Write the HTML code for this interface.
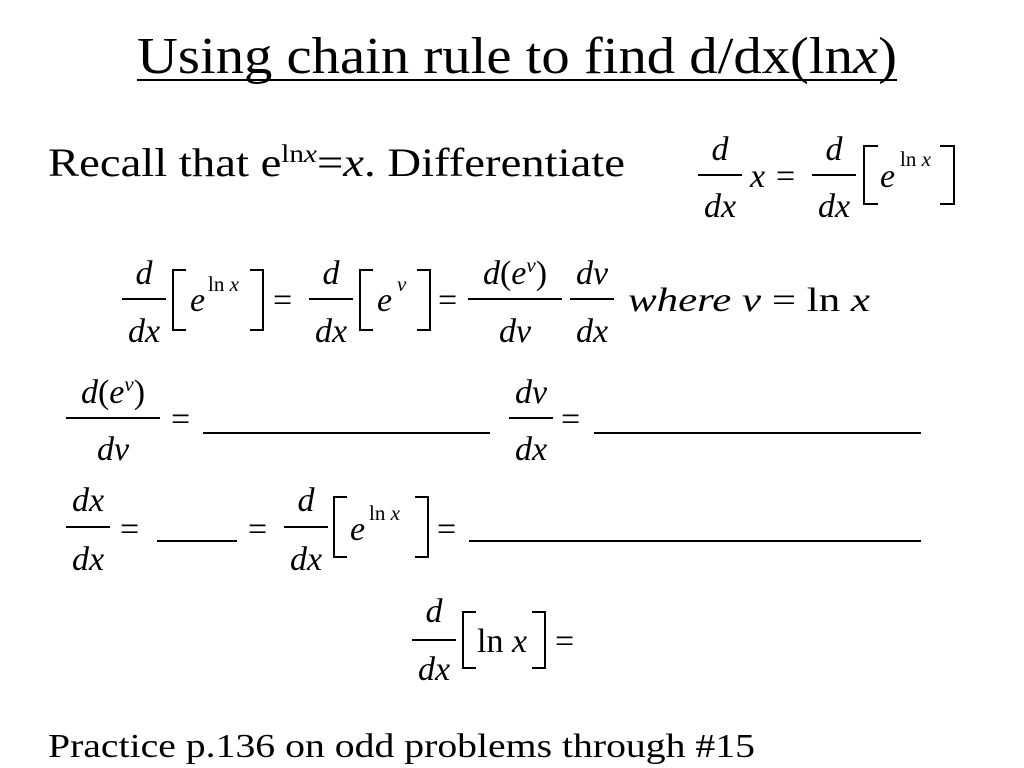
<!DOCTYPE html>
<html><head><meta charset="utf-8"><style>
html,body{margin:0;padding:0;background:#fff;}
svg{display:block}
text{font-family:"Liberation Serif",serif;fill:#000}
.i{font-style:italic}
</style></head><body>
<svg width="1024" height="768" viewBox="0 0 1024 768" xmlns="http://www.w3.org/2000/svg">
<g stroke="#000" stroke-width="2" fill="none">
<line x1="137" y1="80" x2="897" y2="80"/>
<line x1="698" y1="175" x2="742" y2="175"/>
<line x1="812" y1="175" x2="856" y2="175"/>
<polyline points="878,146 864,146 864,204 878,204"/>
<polyline points="940,146 954,146 954,204 940,204"/>
<line x1="122" y1="299" x2="166" y2="299"/>
<polyline points="186,270 173,270 173,330 186,330"/>
<polyline points="250,270 263,270 263,330 250,330"/>
<line x1="309" y1="299" x2="353" y2="299"/>
<polyline points="373,270 360,270 360,330 373,330"/>
<polyline points="417,270 430,270 430,330 417,330"/>
<line x1="468" y1="299" x2="562" y2="299"/>
<line x1="570" y1="299" x2="614" y2="299"/>
<line x1="66" y1="418" x2="160" y2="418"/>
<line x1="203" y1="433" x2="490" y2="433"/>
<line x1="509" y1="418" x2="553" y2="418"/>
<line x1="594" y1="433" x2="921" y2="433"/>
<line x1="66" y1="527" x2="110" y2="527"/>
<line x1="157" y1="541" x2="237" y2="541"/>
<line x1="284" y1="527" x2="328" y2="527"/>
<polyline points="347,497 334,497 334,557 347,557"/>
<polyline points="415,497 428,497 428,557 415,557"/>
<line x1="469" y1="541" x2="921" y2="541"/>
<line x1="412" y1="640" x2="456" y2="640"/>
<polyline points="476,612 463,612 463,668 476,668"/>
<polyline points="532,612 545,612 545,668 532,668"/>
</g>

<text x="137" y="73" font-size="52" textLength="760" lengthAdjust="spacingAndGlyphs">Using chain rule to find d/dx(ln<tspan class="i">x</tspan>)</text>

<text x="48" y="176" font-size="40" textLength="577" lengthAdjust="spacingAndGlyphs">Recall that e<tspan font-size="25" dy="-14">ln<tspan class="i">x</tspan></tspan><tspan dy="14">=</tspan><tspan class="i">x</tspan>.  Differentiate</text>

<g font-size="34">
<text x="720" y="160" text-anchor="middle" class="i">d</text>
<text x="720" y="217" text-anchor="middle" class="i">dx</text>
<text x="750" y="187" class="i">x</text>
<text x="776" y="187">=</text>
<text x="834" y="160" text-anchor="middle" class="i">d</text>
<text x="834" y="217" text-anchor="middle" class="i">dx</text>
<text x="880" y="187" class="i">e</text>
<text x="900" y="166" font-size="21">ln <tspan class="i">x</tspan></text>

<text x="144" y="284" text-anchor="middle" class="i">d</text>
<text x="144" y="342" text-anchor="middle" class="i">dx</text>
<text x="190" y="311" class="i">e</text>
<text x="208" y="291" font-size="21">ln <tspan class="i">x</tspan></text>
<text x="273" y="311">=</text>
<text x="331" y="284" text-anchor="middle" class="i">d</text>
<text x="331" y="342" text-anchor="middle" class="i">dx</text>
<text x="377" y="311" class="i">e</text>
<text x="397" y="291" font-size="21" class="i">v</text>
<text x="438" y="311">=</text>
<text x="515" y="284" text-anchor="middle"><tspan class="i">d</tspan>(<tspan class="i">e</tspan><tspan font-size="21" dy="-12" class="i">v</tspan><tspan dy="12">)</tspan></text>
<text x="515" y="342" text-anchor="middle" class="i">dv</text>
<text x="592" y="284" text-anchor="middle" class="i">dv</text>
<text x="592" y="342" text-anchor="middle" class="i">dx</text>
<text x="628" y="311" textLength="242" lengthAdjust="spacingAndGlyphs"><tspan class="i">where</tspan>  <tspan class="i">v</tspan> = ln <tspan class="i">x</tspan></text>

<text x="113" y="403" text-anchor="middle"><tspan class="i">d</tspan>(<tspan class="i">e</tspan><tspan font-size="21" dy="-12" class="i">v</tspan><tspan dy="12">)</tspan></text>
<text x="113" y="460" text-anchor="middle" class="i">dv</text>
<text x="171" y="430">=</text>
<text x="531" y="403" text-anchor="middle" class="i">dv</text>
<text x="531" y="460" text-anchor="middle" class="i">dx</text>
<text x="561" y="430">=</text>

<text x="88" y="511" text-anchor="middle" class="i">dx</text>
<text x="88" y="570" text-anchor="middle" class="i">dx</text>
<text x="120" y="540">=</text>
<text x="248" y="540">=</text>
<text x="306" y="511" text-anchor="middle" class="i">d</text>
<text x="306" y="570" text-anchor="middle" class="i">dx</text>
<text x="350" y="540" class="i">e</text>
<text x="369" y="520" font-size="21">ln <tspan class="i">x</tspan></text>
<text x="437" y="540">=</text>

<text x="434" y="622" text-anchor="middle" class="i">d</text>
<text x="434" y="680" text-anchor="middle" class="i">dx</text>
<text x="477" y="652">ln <tspan class="i">x</tspan></text>
<text x="555" y="652">=</text>
</g>

<text x="48" y="757" font-size="34" textLength="707" lengthAdjust="spacingAndGlyphs">Practice p.136 on odd problems through #15</text>
</svg>
</body></html>
